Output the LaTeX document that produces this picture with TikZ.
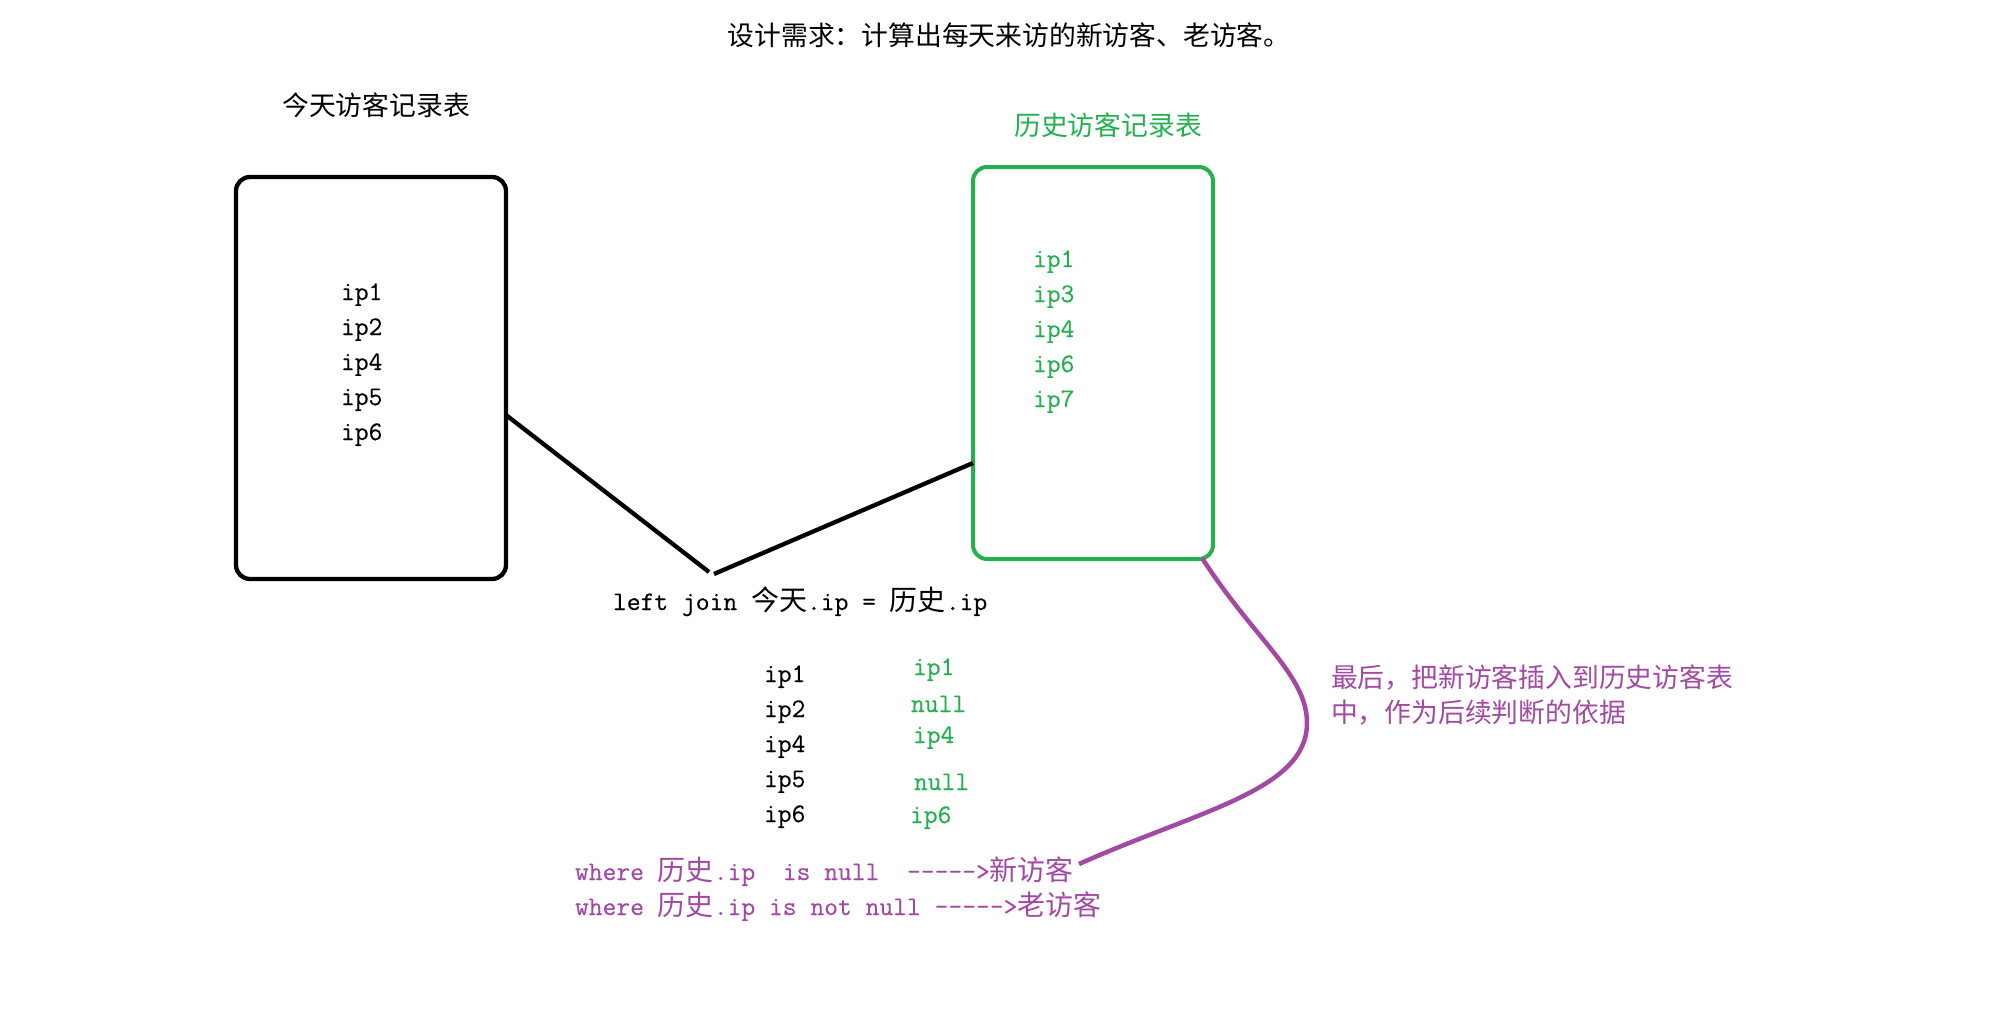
\documentclass[tikz,border=0pt]{standalone}
\usepackage{fontspec}
\usetikzlibrary{calc}
\setmonofont{Latin Modern Mono}[FakeBold=0.3]
\newfontfamily\cjk{Noto Sans CJK SC}
\newcommand{\zh}[1]{{\fontsize{28}{30}\selectfont\cjk #1}}
\definecolor{pgreen}{RGB}{34,177,76}
\definecolor{ppurple}{RGB}{163,73,164}
\begin{document}
\begin{tikzpicture}[x=1pt,y=-1pt,
  every node/.style={inner sep=0pt, outer sep=0pt},
  txt/.style={font=\fontsize{26.8}{30}\selectfont\ttfamily, anchor=base west},
  cn/.style={font=\fontsize{26.8}{30}\selectfont\cjk},
  tbl/.style={draw, line width=4.3pt, rounded corners=14pt},
  joinline/.style={draw=black, line width=4.3pt},
  purp/.style={draw=ppurple, line width=4.5pt}
]
\useasboundingbox[fill=white] (0,0) rectangle (1990,1036);

% titles
\node[cn] (title) at (1009,35) {设计需求：计算出每天来访的新访客、老访客。};
\node[cn] (ttoday) at (376,105) {今天访客记录表};
\node[cn, text=pgreen] (thist) at (1108,125) {历史访客记录表};

% tables
\node[tbl, draw=black, minimum width=270, minimum height=402] (today) at (371,378) {};
\node[tbl, draw=pgreen, line width=4pt, minimum width=240, minimum height=392] (hist) at (1093,363) {};

\foreach \s [count=\i] in {ip1,ip2,ip4,ip5,ip6}
  \node[txt] (ta\i) at (341,265+35*\i) {\s};
\foreach \s [count=\i] in {ip1,ip3,ip4,ip6,ip7}
  \node[txt, text=pgreen] (hb\i) at (1033,232+35*\i) {\s};

% join lines
\coordinate (v1) at (709,572);
\coordinate (v2) at (714,574);
\draw[joinline] ($(today.east)+(0,37)$) -- (v1);
\draw[joinline] (v2) -- ($(hist.west)+(0,100)$);

\node[txt] (joinlbl) at (613,610) {left join \zh{今天}.ip = \zh{历史}.ip};

% result columns
\foreach \s [count=\i] in {ip1,ip2,ip4,ip5,ip6}
  \node[txt] (ra\i) at (764,647+35*\i) {\s};
\node[txt, text=pgreen] (rb1) at (913,675) {ip1};
\node[txt, text=pgreen] (rb2) at (911,712) {null};
\node[txt, text=pgreen] (rb3) at (913,743) {ip4};
\node[txt, text=pgreen] (rb4) at (914,790) {null};
\node[txt, text=pgreen] (rb5) at (910,823) {ip6};

% where clauses
\node[txt, text=ppurple] (w1) at (575,880) {where \zh{历史}.ip\ \ is null\ \ ----->\zh{新访客}};
\node[txt, text=ppurple] (w2) at (575,915) {where \zh{历史}.ip is not null ----->\zh{老访客}};

% note
\node[cn, text=ppurple, anchor=west] (note1) at (1331,678) {最后，把新访客插入到历史访客表};
\node[cn, text=ppurple, anchor=west] (note2) at (1331,713) {中，作为后续判断的依据};

% purple curve
\coordinate (pend) at (1079,864);
\draw[purp] ($(hist.south east)+(-11,-1)$) .. controls (1255,640) and (1307,675) .. (1307,723)
   .. controls (1307,790) and (1200,810) .. (pend);
\end{tikzpicture}
\end{document}
